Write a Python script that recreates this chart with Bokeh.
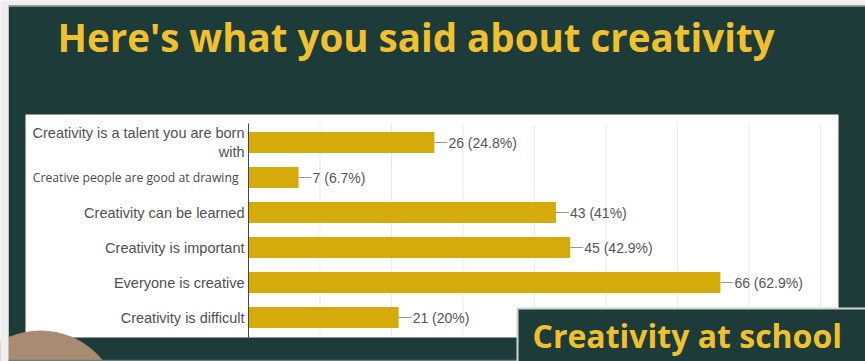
from bokeh.plotting import figure
from bokeh.models import Range1d, ColumnDataSource
from bokeh.core.properties import value
from bokeh.embed import file_html
from bokeh.resources import INLINE

# ---- data ----
categories = [
    "Creativity is a talent you are born\nwith",
    "Creative people are good at drawing",
    "Creativity can be learned",
    "Creativity is important",
    "Everyone is creative",
    "Creativity is difficult",
]
counts = [26, 7, 43, 45, 66, 21]
percents = ["24.8%", "6.7%", "41%", "42.9%", "62.9%", "20%"]
grid_ticks = [10, 20, 30, 40, 50, 60, 70, 80]
title_text = "Here's what you said about creativity"
badge_text = "Creativity at school"

# ---- layout constants (pixels) ----
W, H = 865, 361
AX0, AX80 = 248, 820          # pixel of value 0 and of value 80
ROW0, PITCH = 142, 35         # pixel centre of first row, row pitch
sx = (AX80 - AX0) / 80.0

GREEN = "#1c3b39"
YELLOW = "#f0c02e"
BAR = "#d4ab0b"
GREY_BG = "#eeeeee"

p = figure(width=W, height=H,
           x_range=Range1d(-AX0 / sx, (W - AX0) / sx),
           y_range=Range1d((H - ROW0) / PITCH, -ROW0 / PITCH),
           x_axis_type=None, y_axis_type=None,
           toolbar_location=None, output_backend="svg",
           min_border=0, outline_line_color=None,
           background_fill_color=GREY_BG, border_fill_color=GREY_BG)
p.extra_x_ranges = {"px": Range1d(0, W)}
p.extra_y_ranges = {"px": Range1d(H, 0)}
PX = dict(x_range_name="px", y_range_name="px")

# slide background
p.quad(left=8, right=W + 1, top=6, bottom=H + 1, fill_color=GREEN, line_color=None, **PX)
p.segment(x0=8, x1=W + 1, y0=5.5, y1=5.5, line_color="#7a8583", line_width=1.5, **PX)
# white chart panel
p.quad(left=25, right=838, top=114, bottom=337, fill_color="white", line_color=None, **PX)

rows = list(range(len(categories)))

# gridlines
p.segment(x0=grid_ticks, x1=grid_ticks,
          y0=[(123 - ROW0) / PITCH] * len(grid_ticks),
          y1=[(335 - ROW0) / PITCH] * len(grid_ticks),
          line_color="#e9e9e9", line_width=1)

# bars
src = ColumnDataSource(dict(
    y=rows, count=counts,
    lab=[f"{c} ({pc})" for c, pc in zip(counts, percents)],
    conn_end=[c + 13 / sx for c in counts],
))
p.hbar(y="y", left=0, right="count", height=0.6, source=src,
       fill_color=BAR, line_color=None)

# axis line
p.segment(x0=0, x1=0, y0=(123 - ROW0) / PITCH, y1=(337 - ROW0) / PITCH,
          line_color="#444444", line_width=1)

# value labels with connector
p.segment(x0="count", x1="conn_end", y0="y", y1="y", source=src,
          line_color="#999999", line_width=1)
p.text(x="count", y="y", text="lab", source=src, x_offset=14,
       text_align="left", text_baseline="middle",
       text_font=value("Liberation Sans"), text_font_size=value("14px"),
       text_color="#555555")

# category labels
main_idx = [i for i in rows if i != 1]
csrc = ColumnDataSource(dict(y=[rows[i] for i in main_idx],
                             t=[categories[i] for i in main_idx]))
p.text(x=0, y="y", text="t", source=csrc, x_offset=-4,
       text_align="right", text_baseline="middle", text_line_height=1.2,
       text_font=value("Liberation Sans"), text_font_size=value("14.5px"),
       text_color="#505050")
p.text(x=[0], y=[rows[1]], text=[categories[1]], x_offset=-10,
       text_align="right", text_baseline="middle",
       text_font=value("Open Sans"), text_font_size=value("12.2px"),
       text_color="#4a4a4a")

# decorative circle
p.ellipse(x=40, y=410, width=160, height=160, fill_color="#a98a72",
          line_color=None, **PX)
p.quad(left=-1, right=8, top=6, bottom=H + 1, fill_color=GREY_BG, line_color=None, **PX)
p.segment(x0=8, x1=517, y0=360, y1=360, line_color="#6f7d7a", line_width=1.5, **PX)

# badge box
p.quad(left=517, right=W + 2, top=308, bottom=H + 2, fill_color=GREEN,
       line_color="#cfd6d4", line_width=2, **PX)
p.text(x=[532], y=[335], text=[badge_text], text_align="left",
       text_baseline="middle", text_font=value("Open Sans"),
       text_font_style="bold", text_font_size=value("32px"),
       text_color=YELLOW, **PX)

# title
p.text(x=[57], y=[36], text=[title_text], text_align="left",
       text_baseline="alphabetic", text_font=value("Open Sans"),
       text_font_style="bold", text_font_size=value("38.5px"),
       text_color=YELLOW, **PX)

open("out.html", "w").write(file_html(p, INLINE))
